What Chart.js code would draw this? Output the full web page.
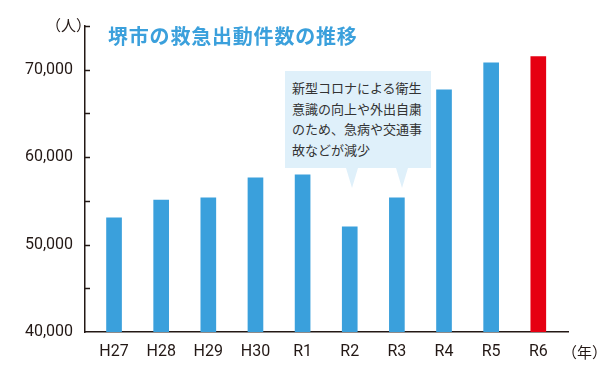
<!DOCTYPE html>
<html><head><meta charset="utf-8">
<script src="https://cdn.jsdelivr.net/npm/chart.js@4/dist/chart.umd.min.js"></script>
<style>
html,body{margin:0;padding:0;background:#fff;}
#wrap{position:relative;width:610px;height:367px;overflow:hidden;}
#c{position:absolute;left:0;top:0;}
.ov{position:absolute;white-space:nowrap;font-family:"Noto Sans CJK JP","Noto Sans",sans-serif;}
#title{left:108px;top:22px;font-size:20px;font-weight:bold;color:#3ba0dc;letter-spacing:0.8px;line-height:28px;}
#unitY{left:46px;top:15px;font-size:15px;color:#231815;line-height:20px;}
#unitX{left:562px;top:342px;font-size:15px;color:#231815;line-height:20px;}
#box{left:285px;top:71px;width:146px;height:97px;background:#dff0fa;}
#boxText{position:absolute;left:7px;top:7px;font-size:13px;line-height:20.5px;color:#333;}
.ptr{position:absolute;top:168px;width:12px;height:20px;background:#dff0fa;clip-path:polygon(0 0,100% 0,50% 100%);}
</style></head>
<body>
<div id="wrap">
<canvas id="c" width="610" height="367"></canvas>
<div class="ov" id="title">堺市の救急出動件数の推移</div>
<div class="ov" id="unitY">（人）</div>
<div class="ov" id="unitX">（年）</div>
<div class="ov" id="box"><div id="boxText">新型コロナによる衛生<br>意識の向上や外出自粛<br>のため、急病や交通事<br>故などが減少</div></div>
<div class="ptr" id="p1" style="left:346px"></div>
<div class="ptr" id="p2" style="left:396px"></div>
</div>
<script>
const categories = ["H27","H28","H29","H30","R1","R2","R3","R4","R5","R6"];
const dispatches = [53050, 55100, 55340, 57630, 57980, 52020, 55340, 67710, 70800, 71490];
const yTickValues = [40000, 45000, 50000, 55000, 60000, 65000, 70000, 75000];
const yLabelValues = [40000, 50000, 60000, 70000];

const BLUE = "#3aa0dc", RED = "#e60012", AXIS = "#231815";
const barColors = categories.map((c, i) => i === categories.length - 1 ? RED : BLUE);

const innerTicks = {
  id: "innerTicks",
  afterDraw(chart) {
    const ctx = chart.ctx, y = chart.scales.y, a = chart.chartArea;
    ctx.save();
    ctx.strokeStyle = AXIS;
    ctx.lineWidth = 1.5;
    yTickValues.forEach(v => {
      if (v === y.min) return;
      const py = Math.round(y.getPixelForValue(v)) + 0.5;
      ctx.beginPath();
      ctx.moveTo(a.left, py);
      ctx.lineTo(a.left + 5, py);
      ctx.stroke();
    });
    ctx.restore();
  }
};

new Chart(document.getElementById("c"), {
  type: "bar",
  data: {
    datasets: [{
      data: dispatches.map((v, i) => ({x: i, y: v})),
      backgroundColor: barColors,
      barThickness: 15,
      borderWidth: 0
    }]
  },
  options: {
    responsive: false,
    animation: false,
    devicePixelRatio: 1,
    layout: {padding: {top: 26, right: 42, left: 0, bottom: 0}},
    plugins: {legend: {display: false}, tooltip: {enabled: false}, title: {display: false}},
    scales: {
      x: {
        type: "linear",
        offset: false,
        min: -0.616,
        max: 9.63,
        afterBuildTicks(scale) { scale.ticks = categories.map((c, i) => ({value: i})); },
        afterFit(scale) { scale.height = 35; },
        grid: {display: true, offset: false, drawOnChartArea: false, drawTicks: false},
        border: {display: true, color: AXIS, width: 1.5},
        ticks: {
          autoSkip: false,
          maxRotation: 0,
          padding: 10,
          color: AXIS,
          font: {family: "Roboto", size: 16},
          callback: (v) => categories[v] ?? ""
        }
      },
      y: {
        min: 40000,
        max: 75000,
        afterBuildTicks(scale) { scale.ticks = yTickValues.map(v => ({value: v})); },
        afterFit(scale) { scale.width = 85; },
        grid: {display: true, drawOnChartArea: false, drawTicks: false},
        border: {display: true, color: AXIS, width: 1.5},
        ticks: {
          padding: 12,
          color: AXIS,
          font: {family: "Roboto", size: 16},
          callback: (v) => yLabelValues.includes(v) ? v.toLocaleString("en-US") : ""
        }
      }
    }
  },
  plugins: [innerTicks]
});
</script>
</body></html>
